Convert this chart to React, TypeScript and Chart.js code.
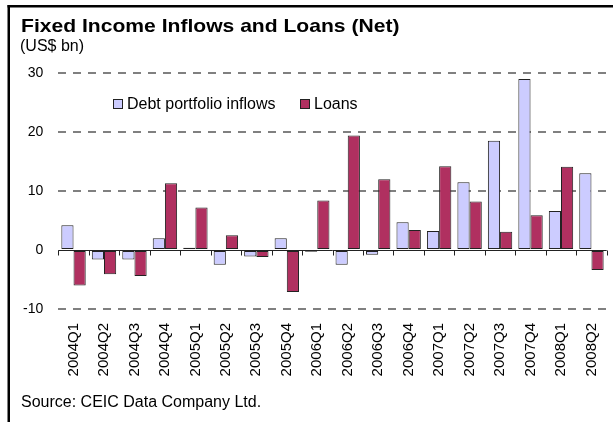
import React, { useEffect, useRef } from 'react';
import { Chart, registerables } from 'chart.js';

Chart.register(...registerables);

const categories = [
  '2004Q1', '2004Q2', '2004Q3', '2004Q4',
  '2005Q1', '2005Q2', '2005Q3', '2005Q4',
  '2006Q1', '2006Q2', '2006Q3', '2006Q4',
  '2007Q1', '2007Q2', '2007Q3', '2007Q4',
  '2008Q1', '2008Q2',
];
const debtInflows = [4.2, -1.6, -1.6, 2.0, 0.4, -2.5, -1.1, 2.0, -0.3, -2.5, -0.8, 4.7, 3.2, 11.5, 18.5, 29.0, 6.6, 13.0];
const loans = [-6.0, -4.1, -4.4, 11.3, 7.2, 2.5, -1.2, -7.1, 8.4, 19.4, 12.0, 3.4, 14.2, 8.2, 3.1, 5.9, 14.1, -3.4];
const yMin = -10;
const yMax = 30;
const yStep = 10;
const seriesNames = ['Debt portfolio inflows', 'Loans'];
const seriesColors = ['#CCCCFF', '#B03060'];
const titleText = 'Fixed Income Inflows and Loans (Net)';
const unitText = '(US$ bn)';
const sourceText = 'Source: CEIC Data Company Ltd.';

const FONT = '"Liberation Sans", Arial, Helvetica, sans-serif';

const decorPlugin = {
  id: 'decor',
  afterDatasetsDraw(chart: any) {
    const { ctx, chartArea, scales } = chart;
    const xs = scales.x;
    const ys = scales.y;
    const y0 = Math.round(ys.getPixelForValue(0)) + 0.5;
    const n = categories.length;
    const step = (xs.getPixelForValue(1) - xs.getPixelForValue(0));
    ctx.save();
    ctx.strokeStyle = '#222';
    ctx.lineWidth = 1;
    ctx.beginPath();
    ctx.moveTo(chartArea.left, y0);
    ctx.lineTo(chartArea.right, y0);
    for (let i = 0; i <= n; i++) {
      const x = Math.round(xs.getPixelForValue(0) - step / 2 + i * step) + 0.5;
      ctx.moveTo(x, y0);
      ctx.lineTo(x, y0 + 5);
    }
    ctx.stroke();

    // legend inside plot
    const legendItems = [
      { x: 113, label: seriesNames[0], color: seriesColors[0] },
      { x: 300, label: seriesNames[1], color: seriesColors[1] },
    ];
    ctx.font = `16px ${FONT}`;
    ctx.textBaseline = 'middle';
    ctx.textAlign = 'left';
    for (const it of legendItems) {
      ctx.fillStyle = it.color;
      ctx.fillRect(it.x, 99, 9, 9);
      ctx.strokeStyle = '#222';
      ctx.lineWidth = 1;
      ctx.strokeRect(it.x + 0.5, 99.5, 9, 9);
      ctx.fillStyle = '#000';
      ctx.fillText(it.label, it.x + 14, 104.5);
    }
    ctx.restore();
  },
  afterDraw(chart: any) {
    const { ctx } = chart;
    ctx.save();
    // frame
    ctx.fillStyle = '#000';
    ctx.fillRect(7.5, 5, 613, 2.5);
    ctx.fillRect(7.5, 5, 2.5, 422);
    // title
    ctx.fillStyle = '#000';
    ctx.textBaseline = 'alphabetic';
    ctx.textAlign = 'left';
    ctx.save();
    ctx.translate(21, 32);
    ctx.scale(1.11, 1);
    ctx.font = `bold 19px ${FONT}`;
    ctx.fillText(titleText, 0, 0);
    ctx.restore();
    ctx.font = `16px ${FONT}`;
    ctx.fillText(unitText, 20, 51);
    ctx.fillText(sourceText, 21, 407);
    ctx.restore();
  },
};

export default function App() {
  const ref = useRef<HTMLCanvasElement | null>(null);
  useEffect(() => {
    if (!ref.current) return;
    const chart = new Chart(ref.current, {
      type: 'bar',
      data: {
        labels: categories,
        datasets: [
          {
            label: seriesNames[0],
            data: debtInflows,
            backgroundColor: seriesColors[0],
            borderColor: '#222',
            borderWidth: 1,
            borderSkipped: false,
          },
          {
            label: seriesNames[1],
            data: loans,
            backgroundColor: seriesColors[1],
            borderColor: '#222',
            borderWidth: 1,
            borderSkipped: false,
          },
        ],
      },
      options: {
        responsive: false,
        animation: false,
        devicePixelRatio: 1,
        layout: { padding: { left: 0, right: 6.3, top: 73, bottom: 43 } },
        datasets: { bar: { categoryPercentage: 0.8, barPercentage: 1.0 } },
        plugins: {
          legend: { display: false },
          title: { display: false },
          tooltip: { enabled: false },
        },
        scales: {
          x: {
            afterFit: (s: any) => {
              s.height = 70;
              s.paddingLeft = 0;
              s.paddingRight = 0;
            },
            grid: { display: false, drawTicks: true, tickLength: 14 },
            border: { display: false },
            ticks: {
              minRotation: 90,
              maxRotation: 90,
              padding: 0,
              autoSkip: false,
              color: '#000',
              font: { family: FONT, size: 15 },
            },
          },
          y: {
            min: yMin,
            max: yMax,
            afterFit: (s: any) => { s.width = 58.3; },
            grid: {
              drawTicks: false,
              lineWidth: 2,
              color: (c: any) => (c.tick && c.tick.value === 0 ? 'rgba(0,0,0,0)' : '#808080'),
            },
            border: { display: false, dash: [8, 7] },
            ticks: {
              stepSize: yStep,
              padding: 15,
              color: '#000',
              font: { family: FONT, size: 14 },
            },
          },
        },
      },
      plugins: [decorPlugin],
    });
    return () => chart.destroy();
  }, []);
  return (
    <div style={{ position: 'fixed', left: 0, top: 0, width: 613, height: 422, background: '#fff' }}>
      <canvas ref={ref} width={613} height={422} style={{ display: 'block' }} />
    </div>
  );
}
